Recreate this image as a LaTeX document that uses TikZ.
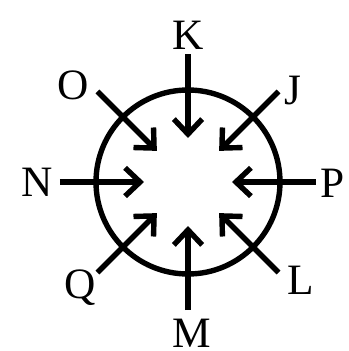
\documentclass[tikz,border=0pt]{standalone}
\usepackage{fontspec}
\setmainfont{Liberation Serif}
\usetikzlibrary{arrows.meta}

\begin{document}
\begin{tikzpicture}[
    lbl/.style={font=\fontsize{37}{37}\selectfont, inner sep=0pt},
    inarrow/.style={line width=4.6pt, -{Straight Barb[length=4.5mm, width=8.5mm]}}
  ]
    \useasboundingbox (-5.64,-5.07) rectangle (4.8,5.46);
    % Circle
    \node[draw, circle, line width=4.6pt, minimum size=5.52cm, inner sep=0pt] (ring) at (0,0) {};
    % Labels round the circle
    \node[lbl] (K) at (90:4.41) {K};
    \node[lbl] (J) at (41:4.19) {J};
    \node[lbl] (P) at (-0.4:4.35) {P};
    \node[lbl] (L) at (-41:4.5) {L};
    \node[lbl] (M) at (-88.5:4.53) {M};
    \node[lbl] (Q) at (224.5:4.54) {Q};
    \node[lbl] (N) at (180:4.53) {N};
    \node[lbl] (O) at (140:4.5) {O};
    % Arrows pointing to the centre
    \foreach \ang/\name in {90/k, 45/j, 0/p, -45/l, -90/m, 225/q, 180/n, 135/o} {
        \coordinate (\name-out) at (\ang:3.84);
        \coordinate (\name-in) at (\ang:1.32);
        \draw[inarrow] (\name-out) -- (\name-in);
    }
\end{tikzpicture}
\end{document}
